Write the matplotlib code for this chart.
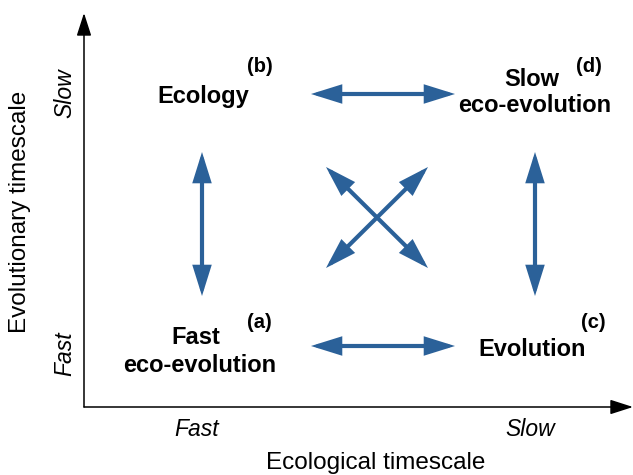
import matplotlib
matplotlib.use("Agg")
import matplotlib.pyplot as plt
from matplotlib.patches import FancyArrowPatch

plt.rcParams['font.family'] = ['Liberation Sans', 'DejaVu Sans']

# quadrant labels, one entry per text line
label_lines = ["Fast", "eco-evolution", "Ecology", "Evolution", "Slow", "eco-evolution"]
label_x = [196, 200, 203, 532, 532, 535]
label_y = [338, 365, 96, 349, 79, 106]

quad_tags = ["(a)", "(b)", "(c)", "(d)"]
tag_x = [259, 260, 593, 589]
tag_y = [322, 67, 322, 66]

axis_ticks_x = ["Fast", "Slow"]
axis_ticks_y = ["Fast", "Slow"]
x_label = "Ecological timescale"
y_label = "Evolutionary timescale"

# double-headed arrows between the quadrants (x0, y0, x1, y1)
links = [
    (311, 94, 455, 94),
    (311, 346, 455, 346),
    (202, 152, 202, 296),
    (535, 152, 535, 296),
    (326, 167, 428, 268),
    (428, 167, 326, 268),
]

blue = "#2b6199"

fig = plt.figure(figsize=(6.33, 4.75), dpi=100)
ax = fig.add_axes([0, 0, 1, 1])
ax.set_xlim(0, 633)
ax.set_ylim(475, 0)
ax.axis("off")

# axes with arrow heads
ax.add_patch(FancyArrowPatch((84, 407), (84, 13), arrowstyle="-|>,head_length=1.4,head_width=0.45",
                             mutation_scale=10, color="black", lw=1.1, shrinkA=0, shrinkB=0))
ax.add_patch(FancyArrowPatch((84, 407), (633, 407), arrowstyle="-|>,head_length=1.4,head_width=0.45",
                             mutation_scale=10, color="black", lw=1.1, shrinkA=0, shrinkB=0))

for (x0, y0, x1, y1) in links:
    ax.add_patch(FancyArrowPatch((x0, y0), (x1, y1),
                                 arrowstyle="<|-|>,head_length=1.6,head_width=0.5",
                                 mutation_scale=10, color=blue, lw=3,
                                 shrinkA=0, shrinkB=0, joinstyle="miter"))

for line, x, y in zip(label_lines, label_x, label_y):
    ax.text(x, y, line, ha="center", va="center", fontsize=17, fontweight="bold")

for tag, tx, ty in zip(quad_tags, tag_x, tag_y):
    ax.text(tx, ty, tag, ha="center", va="center", fontsize=14.5, fontweight="bold")

ax.text(197, 430, axis_ticks_x[0], ha="center", va="center", fontsize=16.5, style="italic")
ax.text(530, 430, axis_ticks_x[1], ha="center", va="center", fontsize=16.5, style="italic")
ax.text(65, 354, axis_ticks_y[0], ha="center", va="center", fontsize=16.5, style="italic", rotation=90)
ax.text(65, 93, axis_ticks_y[1], ha="center", va="center", fontsize=16.5, style="italic", rotation=90)

ax.text(376, 463, x_label, ha="center", va="center", fontsize=17.5)
ax.text(20, 212, y_label, ha="center", va="center", fontsize=17.5, rotation=90)

fig.savefig("out.png", dpi=100)
